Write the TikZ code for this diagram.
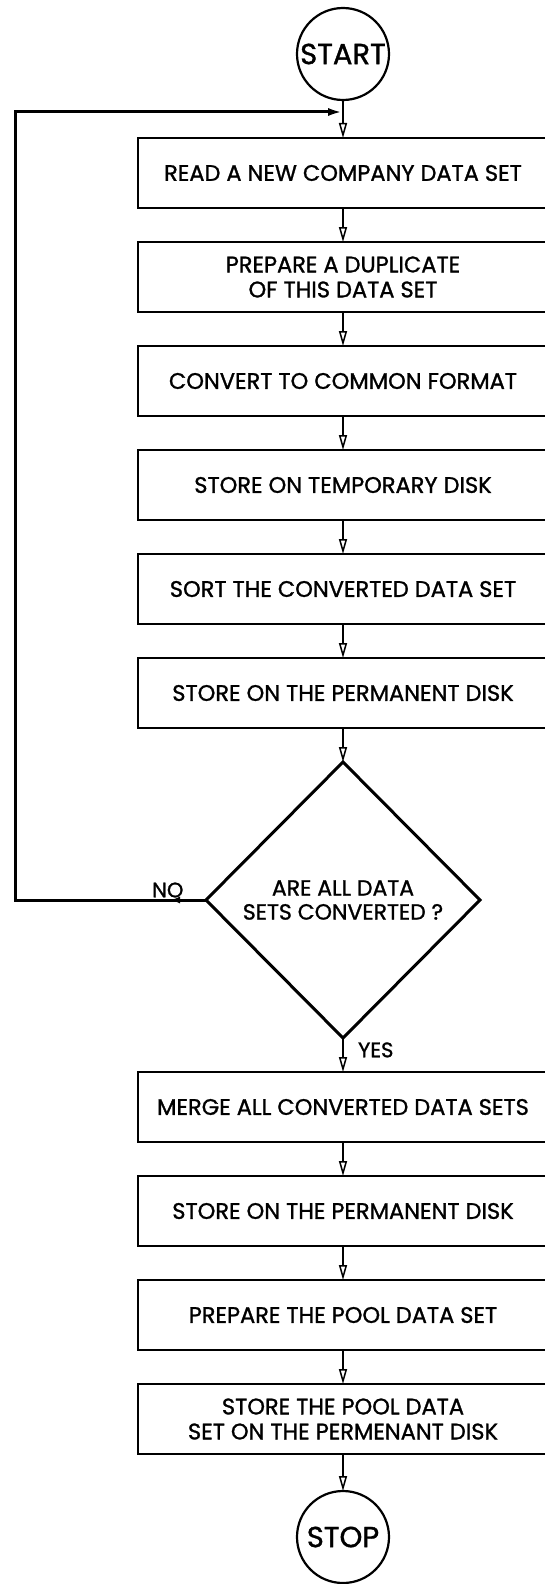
\documentclass[tikz,border=0pt]{standalone}
\usepackage{fontspec}
\setmainfont{Poppins}[FakeBold=1.2]
\usepackage{tikz}
\tikzset{>=latex,
    procbox/.style={draw, line width=2.4pt, minimum width=410pt, minimum height=70pt,
        inner sep=0pt, outer sep=0pt, align=center, font=\fontsize{22.5}{25}\selectfont},
    decbox/.style={draw, diamond, line width=3pt, minimum width=274pt, minimum height=276pt,
        inner sep=0pt, outer sep=0pt, align=center, font=\fontsize{22}{24}\selectfont},
    termcirc/.style={draw, circle, line width=2.2pt, minimum size=92pt, inner sep=0pt,
        outer sep=0pt, font=\fontsize{29}{32}\selectfont},
    flow/.style={line width=1.5pt, -{Triangle[open, length=15pt, width=8pt, line width=1.5pt]}},
    loopline/.style={line width=3pt}}
\usetikzlibrary{positioning,calc,shapes.geometric,arrows.meta,decorations.markings}

\begin{document}
\begin{tikzpicture}[x=1pt, y=1pt, node distance=34pt]
    \useasboundingbox (0,0) rectangle (544,-1584);
    \node[termcirc] (start) at (343,-54) {START};
    \node[procbox, below=38pt of start] (b1) {READ A NEW COMPANY DATA SET};
    \node[procbox, below=of b1] (b2) {PREPARE A DUPLICATE\\OF THIS DATA SET};
    \node[procbox, below=of b2] (b3) {CONVERT TO COMMON FORMAT};
    \node[procbox, below=of b3] (b4) {STORE ON TEMPORARY DISK};
    \node[procbox, below=of b4] (b5) {SORT THE CONVERTED DATA SET};
    \node[procbox, below=of b5] (b6) {STORE ON THE PERMANENT DISK};
    \node[decbox, below=of b6] (dec) {ARE ALL DATA\\SETS CONVERTED ?};
    \node[procbox, below=of dec] (b7) {MERGE ALL CONVERTED DATA SETS};
    \node[procbox, below=of b7] (b8) {STORE ON THE PERMANENT DISK};
    \node[procbox, below=of b8] (b9) {PREPARE THE POOL DATA SET};
    \node[procbox, below=of b9] (b10) {STORE THE POOL DATA\\SET ON THE PERMENANT DISK};
    \node[termcirc, below=37pt of b10] (stop) {STOP};

    \coordinate (j) at ($(start.south)+(0,-12)$);
    \coordinate (lft) at (15,0);

    \foreach \a/\b in {start/b1, b1/b2, b2/b3, b3/b4, b4/b5, b5/b6, b6/dec, b7/b8, b8/b9, b9/b10, b10/stop}
      \draw[flow] (\a) -- (\b);
    \draw[flow] (dec) -- node[pos=0.35, right=11pt, font=\fontsize{21}{23}\selectfont] {YES} (b7);

    % loop back when not all sets are done
    \draw[loopline, -{Latex[length=15pt, width=8pt]},
      postaction={decorate},
      decoration={markings, mark=at position 36pt with {\arrow{Latex[length=10pt, width=7pt]}}}]
      (dec.west) -- node[pos=0.2, above, inner sep=1pt, font=\fontsize{21}{23}\selectfont] {NO}
      (dec.west -| lft) |- (j);
\end{tikzpicture}
\end{document}
